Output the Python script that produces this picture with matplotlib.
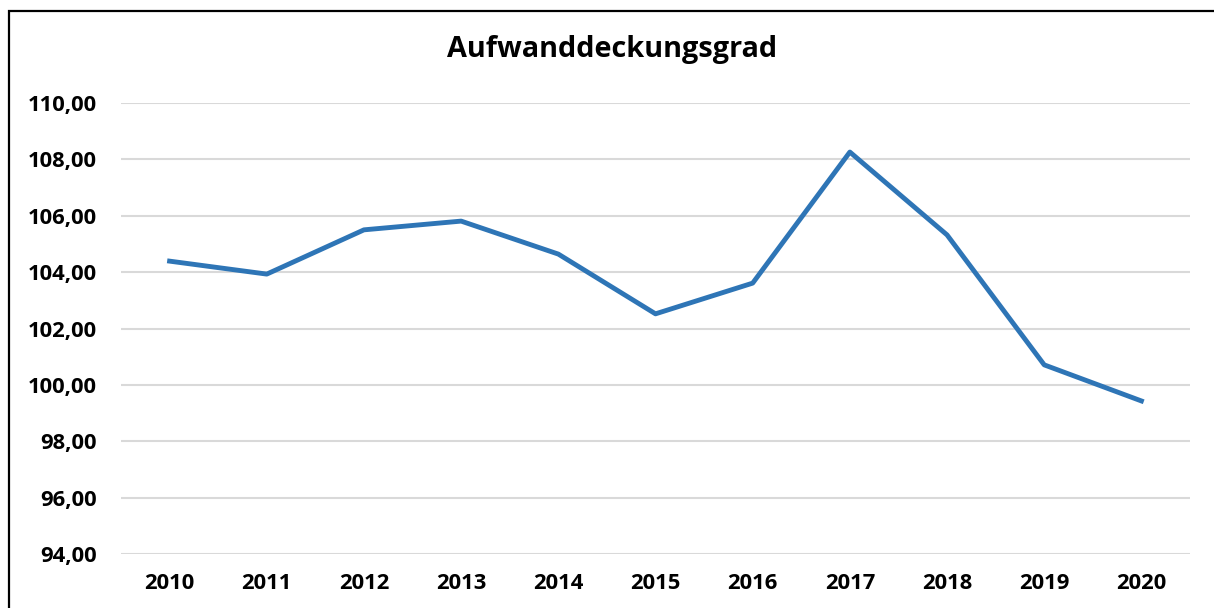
import matplotlib
matplotlib.use("Agg")
from matplotlib import pyplot as plt
from matplotlib.patches import Rectangle

plt.rcParams["font.family"] = ["Open Sans", "DejaVu Sans"]

years = ["2010", "2011", "2012", "2013", "2014", "2015", "2016", "2017", "2018", "2019", "2020"]
values = [104.39, 103.93, 105.50, 105.81, 104.64, 102.52, 103.61, 108.26, 105.32, 100.71, 99.43]
y_ticks = [94, 96, 98, 100, 102, 104, 106, 108, 110]

W, H = 1214, 608
fig = plt.figure(figsize=(W / 100, H / 100), dpi=100)
ax = fig.add_axes([121 / W, 1 - 554 / H, (1190 - 121) / W, (554 - 103) / H])

x = list(range(len(years)))
ax.plot(x, values, color="#2E75B6", lw=3.5, solid_joinstyle="round", zorder=3)

ax.set_xlim(-0.5, len(years) - 0.5)
ax.set_ylim(94, 110)
ax.set_yticks(y_ticks)
ax.set_yticklabels([f"{v:.2f}".replace(".", ",") for v in y_ticks])
ax.set_xticks(x)
ax.set_xticklabels(years)
ax.grid(axis="y", color="#D9D9D9", lw=1.5)
ax.set_axisbelow(True)
for s in ax.spines.values():
    s.set_visible(False)
ax.tick_params(length=0, labelsize=15.8)
ax.tick_params(axis="y", pad=17.5)
ax.tick_params(axis="x", pad=13.5)
for lab in ax.get_xticklabels() + ax.get_yticklabels():
    lab.set_fontweight("bold")

fig.text(612 / W, 1 - 50 / H, "Aufwanddeckungsgrad", ha="center", va="center",
         fontsize=20.8, fontweight="bold")

# outer frame (left and top edges visible)
fig.patches.append(Rectangle((9 / W, -0.1), 1.2, 1 - 11 / H + 0.1, transform=fig.transFigure,
                             fill=False, edgecolor="black", lw=1.6))

fig.savefig("out.png", dpi=100)
